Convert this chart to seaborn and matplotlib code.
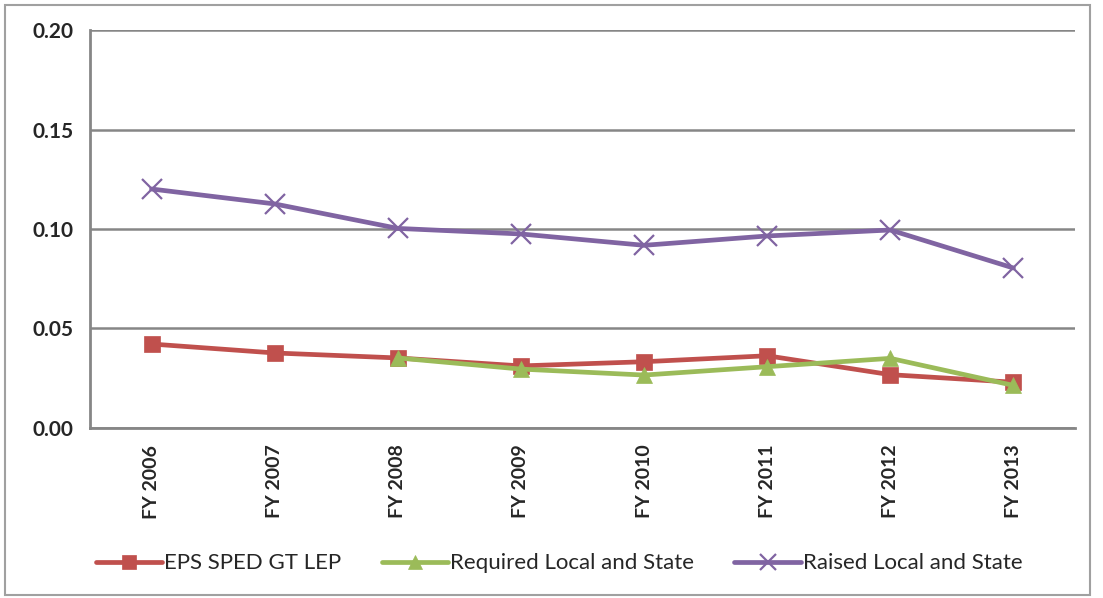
import numpy as np
import pandas as pd
import matplotlib.pyplot as plt
import seaborn as sns
from matplotlib.patches import Rectangle

years = ['FY 2006', 'FY 2007', 'FY 2008', 'FY 2009', 'FY 2010', 'FY 2011', 'FY 2012', 'FY 2013']
eps_sped = [0.0422, 0.0377, 0.0352, 0.0312, 0.0333, 0.0363, 0.0268, 0.0230]
required = [np.nan, np.nan, 0.0352, 0.0296, 0.0266, 0.0308, 0.0350, 0.0214]
raised = [0.1201, 0.1126, 0.1003, 0.0975, 0.0918, 0.0965, 0.0995, 0.0804]

sns.set_style('white')
plt.rcParams['font.family'] = ['Lato', 'DejaVu Sans']

fig = plt.figure(figsize=(11.03, 5.98), dpi=100)
ax = fig.add_axes([0.0816, 0.2843, 0.893, 0.6655])

pos = np.arange(len(years))
series = [('EPS SPED GT LEP', eps_sped, '#C0504D', 's', 12),
          ('Required Local and State', required, '#9BBB59', '^', 12),
          ('Raised Local and State', raised, '#8064A2', 'x', 14)]
for name, vals, col, mk, ms in series:
    df = pd.DataFrame({'x': pos, 'y': vals}).dropna()
    sns.lineplot(data=df, x='x', y='y', ax=ax, color=col, lw=3.4, marker=mk,
                 markersize=ms, markeredgecolor=col, markeredgewidth=1.6 if mk == 'x' else 0.5,
                 label=name)

ax.set_xlim(-0.5, len(years) - 0.5)
ax.set_ylim(0, 0.20)
ax.set_yticks([0, 0.05, 0.10, 0.15, 0.20])
ax.set_yticklabels(['0.00', '0.05', '0.10', '0.15', '0.20'], fontsize=15, fontweight='bold')
ax.set_xticks(pos)
ax.set_xticklabels(years, rotation=90, fontsize=14, fontweight='bold')
ax.set_xticks(np.arange(-0.5, len(years)), minor=True)
ax.tick_params(axis='x', which='major', length=0, pad=12)
ax.tick_params(axis='x', which='minor', length=6, width=2, color='#868686', direction='out')
ax.tick_params(axis='y', length=6, width=2, color='#868686', direction='out', pad=6)
ax.set_xlabel('')
ax.set_ylabel('')
ax.grid(axis='y', color='#868686', lw=1.8)
ax.grid(axis='x', visible=False)
for s in ['top', 'right']:
    ax.spines[s].set_visible(False)
for s in ['left', 'bottom']:
    ax.spines[s].set_color('#868686')
    ax.spines[s].set_linewidth(2)

ax.get_legend().remove()
h, l = ax.get_legend_handles_labels()
fig.legend(h, l, loc='center', bbox_to_anchor=(0.507, 0.058), ncol=3, frameon=False,
           fontsize=16, handlelength=3.0, handletextpad=0.1, columnspacing=1.8, markerscale=0.8)

fig.patches.append(Rectangle((5 / 1103, 3 / 598), 1085 / 1103, 590 / 598, transform=fig.transFigure,
                             fill=False, edgecolor='#A0A0A0', lw=1.5))

fig.savefig('out.png', dpi=100)
